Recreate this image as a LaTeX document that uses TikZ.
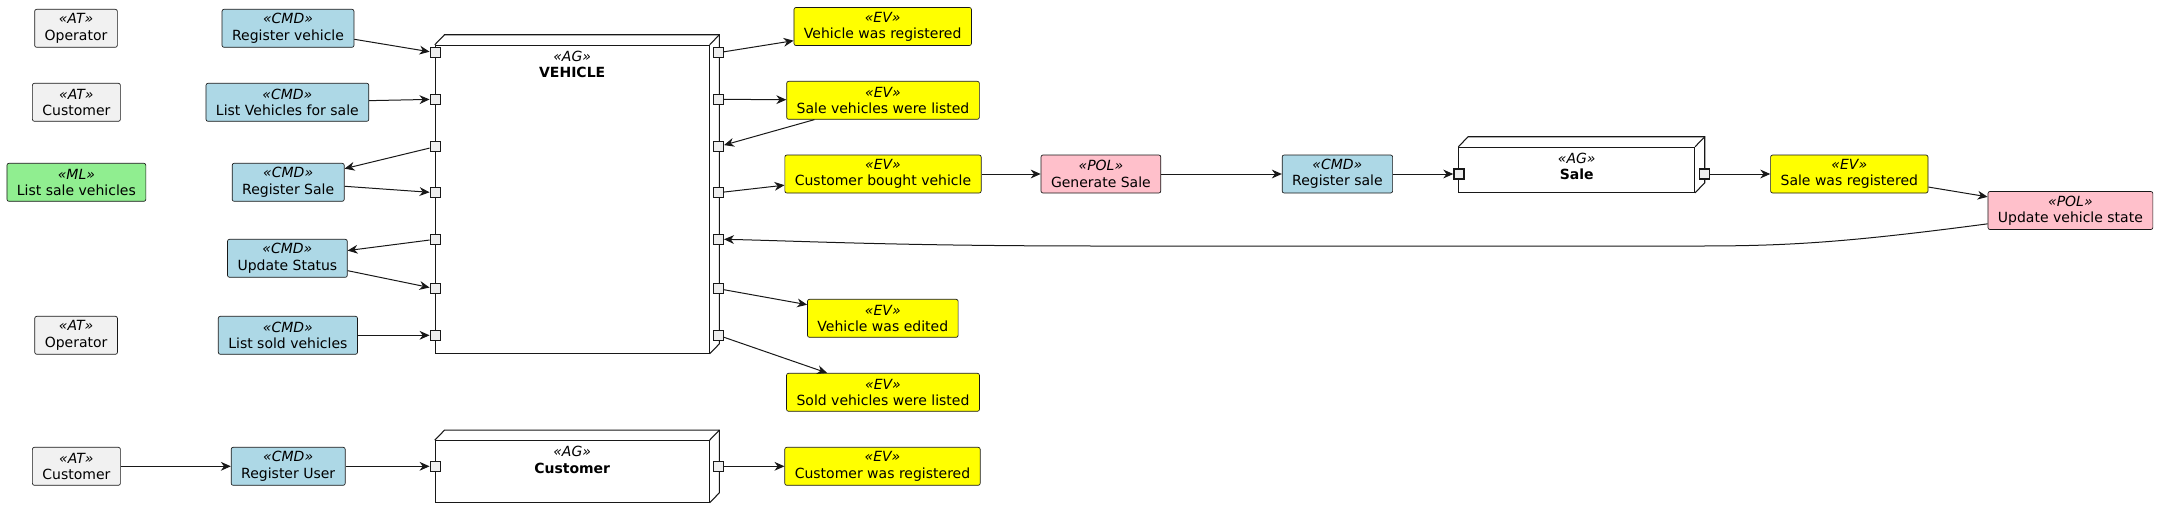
\documentclass[tikz,border=0pt]{standalone}
\usepackage{fontspec}
\setmainfont{DejaVu Sans}
\usetikzlibrary{arrows.meta,calc}
\definecolor{cmdfill}{HTML}{ADD8E6}
\definecolor{evfill}{HTML}{FFFF00}
\definecolor{polfill}{HTML}{FFC0CB}
\definecolor{mlfill}{HTML}{90EE90}
\definecolor{atfill}{HTML}{F1F1F1}
\definecolor{boxline}{HTML}{181818}
\definecolor{portfill}{HTML}{EEEEEE}
\newcommand\stereo[1]{\textit{«#1»}}
\tikzset{
  box/.style={draw=boxline, line width=0.5pt, rounded corners=1.5pt, align=center,
    inner xsep=7.5pt, inner ysep=0pt, minimum height=28.5pt,
    font=\fontsize{10.5}{12.2}\selectfont},
  atbox/.style={box, fill=atfill},
  cmdbox/.style={box, fill=cmdfill},
  evbox/.style={box, fill=evfill},
  polbox/.style={box, fill=polfill},
  mlbox/.style={box, fill=mlfill},
  agfront/.style={draw=boxline, line width=0.8pt, fill=white, inner sep=0pt},
  agline/.style={draw=boxline, line width=0.8pt},
  agtitle/.style={align=center, inner sep=0pt, font=\fontsize{10.5}{12.2}\selectfont},
  port/.style={draw=boxline, fill=portfill, line width=1pt, minimum size=7.6pt, inner sep=0pt},
  arr/.style={draw=boxline, line width=0.75pt, -{Stealth[length=7.5pt,width=6.6pt,inset=2.4pt]}}
}
\begin{document}
\begin{tikzpicture}[x=0.75pt,y=-0.75pt]
\useasboundingbox (0,0) rectangle (2157,518);
% ---------- aggregates ----------
\node[agfront, minimum width=205.35pt, minimum height=231pt] (veh) at (572.2,199.3) {};
\draw[agline] (veh.north west) -- ++(9.7,-10) -- ($(veh.north east)+(9.7,-10)$) -- ($(veh.south east)+(9.7,-10)$) -- (veh.south east);
\draw[agline] (veh.north east) -- ++(9.7,-10);
\node[agtitle] (vehtitle) at ($(veh.north)+(0,19.6)$) {\stereo{AG}\\\textbf{VEHICLE}};

\node[agfront, minimum width=205.3pt, minimum height=46.2pt] (cus) at (572.2,471.5) {};
\draw[agline] (cus.north west) -- ++(9.7,-10) -- ($(cus.north east)+(9.7,-10)$) -- ($(cus.south east)+(9.7,-10)$) -- (cus.south east);
\draw[agline] (cus.north east) -- ++(9.7,-10);
\node[agtitle] (custitle) at ($(cus.north)+(0,19.6)$) {\stereo{AG}\\\textbf{Customer}};

\node[agfront, minimum width=176.7pt, minimum height=33.75pt] (sale) at (1576.7,169.8) {};
\draw[agline] (sale.north west) -- ++(9.7,-10) -- ($(sale.north east)+(9.7,-10)$) -- ($(sale.south east)+(9.7,-10)$) -- (sale.south east);
\draw[agline] (sale.north east) -- ++(9.7,-10);
\node[agtitle] (saletitle) at ($(sale.north)+(0,19.7)$) {\stereo{AG}\\\textbf{Sale}};

% ---------- ports ----------
\foreach \i/\yy in {1/52.7,2/99.3,3/146.7,4/192.7,5/239.3,6/288.7,7/335.3}{
  \node[port] (vL\i) at (435.3,\yy) {};
  \node[port] (vR\i) at (718.3,\yy) {};
}
\node[port] (cL) at (435.3,466.3) {};
\node[port] (cR) at (718.3,466.3) {};
\node[port] (sL) at (1459,174) {};
\node[port] (sR) at (1704.3,174) {};

% ---------- left column ----------
\node[atbox] (at1) at (76,28.3) {\stereo{AT}\\Operator};
\node[cmdbox] (c1) at (288,28.3) {\stereo{CMD}\\Register vehicle};
\node[atbox] (at2) at (76.4,102.3) {\stereo{AT}\\Customer};
\node[cmdbox] (c2) at (287.4,102.3) {\stereo{CMD}\\List Vehicles for sale};
\node[mlbox] (ml) at (76.4,182.3) {\stereo{ML}\\List sale vehicles};
\node[cmdbox] (c3) at (288.2,182.3) {\stereo{CMD}\\Register Sale};
\node[cmdbox] (c4) at (287.4,258.3) {\stereo{CMD}\\Update Status};
\node[atbox] (at3) at (76.1,335.3) {\stereo{AT}\\Operator};
\node[cmdbox] (c5) at (287.9,335.3) {\stereo{CMD}\\List sold vehicles};
\node[atbox] (at4) at (76.4,466.3) {\stereo{AT}\\Customer};
\node[cmdbox] (c6) at (288.2,466.3) {\stereo{CMD}\\Register User};

% ---------- right side ----------
\node[evbox] (e1) at (882.7,26.5) {\stereo{EV}\\Vehicle was registered};
\node[evbox] (e2) at (883,100.3) {\stereo{EV}\\Sale vehicles were listed};
\node[evbox] (e3) at (883,174) {\stereo{EV}\\Customer bought vehicle};
\node[polbox] (p1) at (1100.9,174) {\stereo{POL}\\Generate Sale};
\node[cmdbox] (c7) at (1337.4,174) {\stereo{CMD}\\Register sale};
\node[evbox] (e4) at (1849.3,174) {\stereo{EV}\\Sale was registered};
\node[polbox] (p2) at (2070.4,210.5) {\stereo{POL}\\Update vehicle state};
\node[evbox] (e5) at (882.8,318.3) {\stereo{EV}\\Vehicle was edited};
\node[evbox] (e6) at (883,392.3) {\stereo{EV}\\Sold vehicles were listed};
\node[evbox] (e7) at (882.5,466.3) {\stereo{EV}\\Customer was registered};

% ---------- connectors ----------
\draw[arr] (c1) -- (vL1);
\draw[arr] (c2) -- (vL2);
\draw[arr] (vL3) -- (c3);
\draw[arr] (c3) -- (vL4);
\draw[arr] (vL5) -- (c4);
\draw[arr] (c4) -- (vL6);
\draw[arr] (c5) -- (vL7);
\draw[arr] (at4) -- (c6);
\draw[arr] (c6) -- (cL);
\draw[arr] (cR) -- (e7);
\draw[arr] (vR1) -- (e1);
\draw[arr] (vR2) -- (e2);
\draw[arr] (e2) -- (vR3);
\draw[arr] (vR4) -- (e3);
\draw[arr] (e3) -- (p1);
\draw[arr] (p1) -- (c7);
\draw[arr] (c7) -- (sL);
\draw[arr] (sR) -- (e4);
\draw[arr] (e4) -- (p2);
\draw[arr] (vR6) -- (e5);
\draw[arr] (vR7) -- (e6);
\draw[arr] ($(p2.south west)+(0,-6)$) .. controls (1850,242) and (1790,246) .. (1700,246)
  -- (1100,246) .. controls (900,246) and (800,241) .. (vR5.east);
\end{tikzpicture}
\end{document}
